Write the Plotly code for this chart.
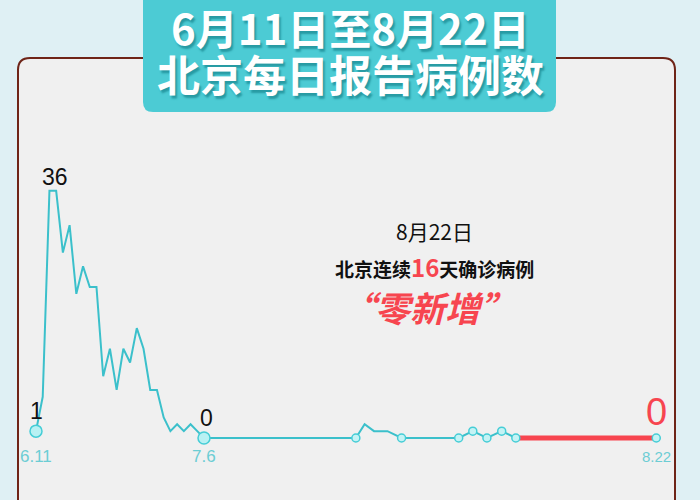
import plotly.graph_objects as go

# ---------------- data ----------------
# day index counted from 6月11日 (0) ; 7月6日 = 25
peak_days = list(range(26))
peak_cases = [1, 6, 36, 36, 27, 31, 21, 25, 22, 22, 9, 13, 7, 13, 11, 16,
              13, 7, 7, 3, 1, 2, 1, 2, 1, 0]
later_days = [47.6, 48.9, 50.3, 52.3, 54.4, 62.9, 65.0, 67.1, 69.3, 71.4]
later_cases = [0, 2, 1, 1, 0, 0, 1, 0, 1, 0]
streak_days = [71.4, 92.3]          # 连续16天零新增
streak_cases = [0, 0]
big_marker_days = [0, 25]
big_marker_cases = [1, 0]
small_marker_days = [47.6, 54.4, 62.9, 65.0, 67.1, 69.3, 71.4, 92.3]
small_marker_cases = [0, 0, 0, 1, 0, 1, 0, 0]
date_label_days = [0, 25, 92.3]
date_labels = ["6.11", "7.6", "8.22"]
value_label_days = [0, 2.8, 25.4]
value_label_cases = [1, 36, 0]
value_labels = ["1", "36", "0"]

W, H = 700, 500
CJK = "Noto Sans CJK SC"
LAT = "Liberation Sans, Arial, Helvetica"
TEAL = "#3bc0cb"


def px(x):
    return x / W


def py(y):
    return 1 - y / H


def rrect(x0, y0, x1, y1, r):
    X0, X1 = px(x0), px(x1)
    Y0, Y1 = py(y0), py(y1)
    rx, ry = r / W, r / H
    return (f"M{X0},{Y0 - ry} Q{X0},{Y0} {X0 + rx},{Y0} L{X1 - rx},{Y0} "
            f"Q{X1},{Y0} {X1},{Y0 - ry} L{X1},{Y1 + ry} Q{X1},{Y1} {X1 - rx},{Y1} "
            f"L{X0 + rx},{Y1} Q{X0},{Y1} {X0},{Y1 + ry} Z")


fig = go.Figure()

all_days = peak_days + later_days
all_cases = peak_cases + later_cases
fig.add_trace(go.Scatter(x=all_days, y=all_cases, mode="lines",
                         line=dict(color=TEAL, width=2), hoverinfo="skip"))
fig.add_trace(go.Scatter(x=streak_days, y=streak_cases, mode="lines",
                         line=dict(color="#f7454f", width=5), hoverinfo="skip"))
fig.add_trace(go.Scatter(x=big_marker_days, y=big_marker_cases, mode="markers",
                         marker=dict(size=12, color="#b8f1f3",
                                     line=dict(color="#45cdd6", width=1.5)),
                         hoverinfo="skip"))
fig.add_trace(go.Scatter(x=small_marker_days, y=small_marker_cases, mode="markers",
                         marker=dict(size=8, color="#c4f3f5",
                                     line=dict(color="#45cdd6", width=1.5)),
                         hoverinfo="skip"))

# date labels
sizes = [17, 17, 15]
for d, t, s in zip(date_label_days, date_labels, sizes):
    fig.add_annotation(x=d, y=0, text=t, showarrow=False, yshift=-18,
                       yanchor="middle", xanchor="center",
                       font=dict(family=LAT, size=s, color="#6ccdd4"))

# value labels
shifts = [20, 14, 20]
for d, v, t, s in zip(value_label_days, value_label_cases, value_labels, shifts):
    fig.add_annotation(x=d, y=v, text=t, showarrow=False, yshift=s,
                       yanchor="middle", xanchor="center",
                       font=dict(family=LAT, size=23, color="#111111"))
fig.add_annotation(x=streak_days[-1], y=0, text="0", showarrow=False, yshift=26,
                   yanchor="middle", xanchor="center",
                   font=dict(family=LAT, size=38, color="#f7454f"))

# centre message
fig.add_annotation(x=px(434), y=py(231), xref="paper", yref="paper", text="8月22日",
                   xanchor="center", yanchor="middle",
                   showarrow=False, font=dict(family=CJK, size=21, color="#111111"))
fig.add_annotation(x=px(434), y=py(266), xref="paper", yref="paper",
                   text="<b>北京连续<span style='color:#f7454f;font-size:24px'>16</span>天确诊病例</b>",
                   xanchor="center", yanchor="middle",
                   showarrow=False, font=dict(family=CJK, size=19, color="#111111"))
fig.add_annotation(x=px(427), y=py(306), xref="paper", yref="paper",
                   text="<b>“零新增”</b>", showarrow=False,
                   xanchor="center", yanchor="middle",
                   font=dict(family=CJK, size=35, color="#f7454f", style="italic"))

# title
for txt, y, s in [("6月11日至8月22日", 26, 42), ("北京每日报告病例数", 73, 43)]:
    fig.add_annotation(x=px(350), y=py(y), xref="paper", yref="paper",
                       text=f"<b>{txt}</b>", showarrow=False,
                       xanchor="center", yanchor="middle",
                       font=dict(family=CJK, size=s, color="white",
                                 shadow="2px 3px 2px #279aa3"))

shapes = [
    dict(type="path", xref="paper", yref="paper", layer="below",
         path=rrect(18, 58, 675, 540, 12), fillcolor="#f0f0f0",
         line=dict(color="#6e2417", width=2)),
    dict(type="path", xref="paper", yref="paper", layer="below",
         path=rrect(143, -20, 556, 112, 10), fillcolor="#4ccbd4",
         line=dict(width=0)),
]

x0 = -36 / 6.72
x1 = (W - 36) / 6.72
y_lo = -(H - 438) / 6.866
y_hi = 438 / 6.866

fig.update_layout(
    width=W, height=H,
    margin=dict(l=0, r=0, t=0, b=0),
    paper_bgcolor="#dff0f4",
    plot_bgcolor="rgba(0,0,0,0)",
    showlegend=False,
    shapes=shapes,
    xaxis=dict(range=[x0, x1], visible=False, fixedrange=True),
    yaxis=dict(range=[y_lo, y_hi], visible=False, fixedrange=True),
)

fig.write_html("out.html", config={"displayModeBar": False},
               post_script="document.body.style.margin='0';")
